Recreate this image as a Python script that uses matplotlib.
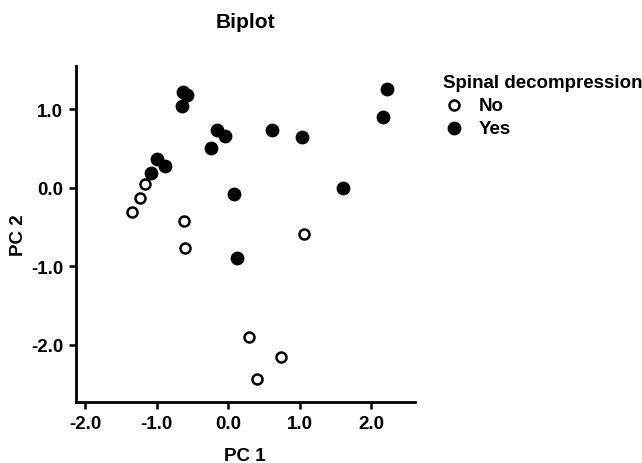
import matplotlib
matplotlib.use("Agg")
import matplotlib.pyplot as plt

plt.rcParams['font.family'] = ['Liberation Sans', 'DejaVu Sans']
plt.rcParams['font.weight'] = 'bold'

# PC scores
yes_pc1 = [-0.63, -0.58, -0.64, -0.16, -0.05, -0.24, -1.00, -0.88, -1.08,
           0.08, 0.13, 0.62, 1.03, 1.60, 2.16, 2.22]
yes_pc2 = [1.22, 1.18, 1.04, 0.73, 0.66, 0.51, 0.37, 0.27, 0.19,
           -0.08, -0.89, 0.73, 0.65, 0.00, 0.90, 1.26]
no_pc1 = [-1.16, -1.23, -1.34, -0.62, -0.60, 1.06, 0.29, 0.74, 0.41]
no_pc2 = [0.05, -0.13, -0.31, -0.43, -0.77, -0.59, -1.90, -2.15, -2.44]

yticks = [-2.0, -1.0, 0.0, 1.0]
xticks = [-2.0, -1.0, 0.0, 1.0, 2.0]

fig = plt.figure(figsize=(6.42, 4.64), dpi=100)
ax = fig.add_axes([0.118, 0.131, 0.528, 0.725])

ax.scatter(no_pc1, no_pc2, s=52, facecolor='white', edgecolor='black',
           linewidth=1.8, label='No', zorder=3)
ax.scatter(yes_pc1, yes_pc2, s=80, facecolor='black', edgecolor='black',
           linewidth=1, label='Yes', zorder=3)

ax.set_xlim(-2.13, 2.61)
ax.set_ylim(-2.73, 1.55)
ax.set_xticks(xticks)
ax.set_yticks(yticks)
ax.set_xticklabels([f"{t:.1f}" for t in xticks])
ax.set_yticklabels([f"{t:.1f}" for t in yticks])
for s in ['top', 'right']:
    ax.spines[s].set_visible(False)
for s in ['left', 'bottom']:
    ax.spines[s].set_linewidth(2)
ax.tick_params(direction='out', length=5, width=1.8, labelsize=13.5,
               colors='black', pad=4)
for lbl in ax.get_xticklabels() + ax.get_yticklabels():
    lbl.set_fontweight('bold')

ax.set_xlabel('PC 1', fontsize=13.5, fontweight='bold', labelpad=11)
ax.set_ylabel('PC 2', fontsize=13.5, fontweight='bold', labelpad=3)
ax.set_title('Biplot', fontsize=15, fontweight='bold', pad=28)

leg = ax.legend(title='Spinal decompression', loc='upper left',
                bbox_to_anchor=(1.084, 0.975), frameon=False, fontsize=13.5,
                title_fontproperties={'weight': 'bold', 'size': 13.5},
                alignment='left', handletextpad=0.7, labelspacing=0.3,
                borderaxespad=0, borderpad=0, handlelength=1.2)

fig.savefig('out.png', dpi=100)
